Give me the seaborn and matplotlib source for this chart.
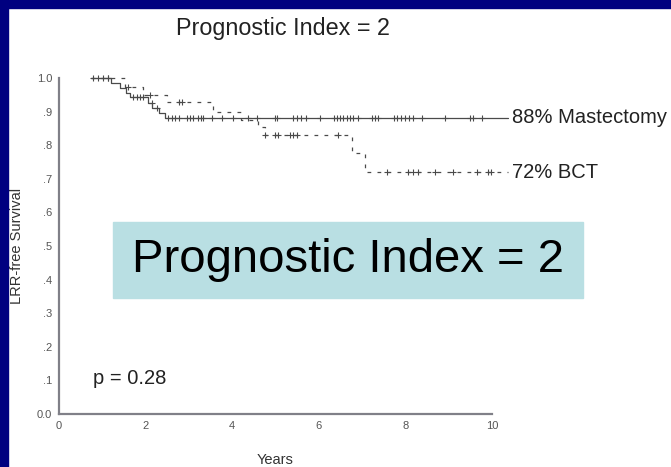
import numpy as np
import pandas as pd
import matplotlib
matplotlib.use('Agg')
import matplotlib.pyplot as plt
from matplotlib.patches import Rectangle
import seaborn as sns

# step curves (years, survival)
mast_t = [0.75, 1.2, 1.4, 1.55, 1.65, 2.05, 2.15, 2.3, 2.45, 10.37]
mast_s = [1.0, 0.985, 0.97, 0.955, 0.943, 0.925, 0.91, 0.895, 0.882, 0.882]
bct_t = [0.75, 1.52, 1.94, 2.5, 3.55, 4.2, 4.6, 4.76, 6.77, 7.07, 10.37]
bct_s = [1.0, 0.973, 0.95, 0.93, 0.90, 0.875, 0.855, 0.83, 0.777, 0.72, 0.72]

# censor marks
mast_cens = [0.79, 0.91, 1.02, 1.14, 1.72, 1.79, 1.87, 1.95, 2.14, 2.26,
             2.52, 2.6, 2.68, 2.76, 2.95, 3.02, 3.1, 3.22, 3.29, 3.33, 3.53,
             3.76, 4.01, 4.36, 4.57, 4.99, 5.03, 5.4, 5.49, 5.6, 5.7, 6.03,
             6.34, 6.41, 6.49, 6.57, 6.64, 6.72, 6.8, 6.91, 7.22, 7.3, 7.37,
             7.74, 7.81, 7.89, 7.99, 8.09, 8.18, 8.39, 8.91, 9.49, 9.57, 9.78]
bct_cens = [1.14, 1.6, 2.1, 2.76, 2.83, 4.76, 4.99, 5.06, 5.33, 5.4, 5.49,
            6.45, 7.57, 8.07, 8.18, 8.3, 8.68, 9.09, 9.65, 9.91, 9.98]

labels = ['88% Mastectomy', '72% BCT']
title = 'Prognostic Index = 2'
p_text = 'p = 0.28'
yticks = [0.0, 0.1, 0.2, 0.3, 0.4, 0.5, 0.6, 0.7, 0.8, 0.9, 1.0]
ytick_labels = ['0.0', '.1', '.2', '.3', '.4', '.5', '.6', '.7', '.8', '.9', '1.0']
xticks = [0, 2, 4, 6, 8, 10]


def step_at(times, surv, t):
    idx = np.searchsorted(times, t, side='right') - 1
    return np.array(surv)[np.clip(idx, 0, len(surv) - 1)]


sns.set_style('white')
plt.rcParams['font.family'] = ['Liberation Sans', 'DejaVu Sans']

W, H = 671, 467
fig = plt.figure(figsize=(W / 100, H / 100), dpi=100)
fig.patch.set_facecolor('white')
navy = '#000080'
fig.patches.append(Rectangle((0, 0), 8 / W, 1, transform=fig.transFigure, color=navy, zorder=0))
fig.patches.append(Rectangle((0, 1 - 8 / H), 1, 8 / H, transform=fig.transFigure, color=navy, zorder=0))

ax = fig.add_axes([59 / W, 1 - 414 / H, 433 / W, 336 / H])
ax.set_facecolor('none')

line_col = '#4a4a4a'
mast = pd.DataFrame({'t': mast_t, 's': mast_s})
bct = pd.DataFrame({'t': bct_t, 's': bct_s})
sns.lineplot(data=mast, x='t', y='s', ax=ax, estimator=None, drawstyle='steps-post',
             color=line_col, lw=0.9, clip_on=False)
sns.lineplot(data=bct, x='t', y='s', ax=ax, estimator=None, drawstyle='steps-post',
             color=line_col, lw=0.9, dashes=False, linestyle=(0, (3, 5)), clip_on=False)

mc = pd.DataFrame({'t': mast_cens, 's': step_at(mast_t, mast_s, mast_cens)})
bc = pd.DataFrame({'t': bct_cens, 's': step_at(bct_t, bct_s, bct_cens)})
for d in (mc, bc):
    sns.scatterplot(data=d, x='t', y='s', ax=ax, marker='+', s=22, color=line_col,
                    linewidth=0.8, clip_on=False)

ax.set_xlim(0, 10)
ax.set_ylim(0, 1)
ax.set_xticks(xticks)
ax.set_yticks(yticks)
ax.set_yticklabels(ytick_labels)
for sp in ['top', 'right']:
    ax.spines[sp].set_visible(False)
for sp in ['left', 'bottom']:
    ax.spines[sp].set_color('#808088')
    ax.spines[sp].set_linewidth(1.6)
ax.tick_params(axis='both', length=2.5, width=2, color='black', direction='out',
               labelsize=8, labelcolor='#555555', pad=2.5)

ax.set_xlabel('Years', fontsize=10.5, color='#333333', labelpad=16)
ax.set_ylabel('LRR-free Survival', fontsize=10.5, color='#333333', labelpad=9)

ax.text(10.46, mast_s[-1], labels[0], fontsize=14.5, color='#222222', va='center',
        ha='left', clip_on=False)
ax.text(10.46, bct_s[-1], labels[1], fontsize=14.5, color='#222222', va='center',
        ha='left', clip_on=False)
ax.text(0.79, 0.107, p_text, fontsize=14.5, color='#222222', va='center', ha='left')

fig.text(283 / W, 1 - 35 / H, title, fontsize=16.8, color='#222222', ha='center',
         va='baseline')

# highlighted box with the big label
fig.patches.append(Rectangle((113 / W, 1 - 298 / H), 470 / W, 76 / H,
                             transform=fig.transFigure, color='#b9dfe3', zorder=3))
fig.text(348 / W, 1 - 260 / H, title, fontsize=34, color='black', ha='center',
         va='center', zorder=4)

fig.savefig('out.png', dpi=100)
